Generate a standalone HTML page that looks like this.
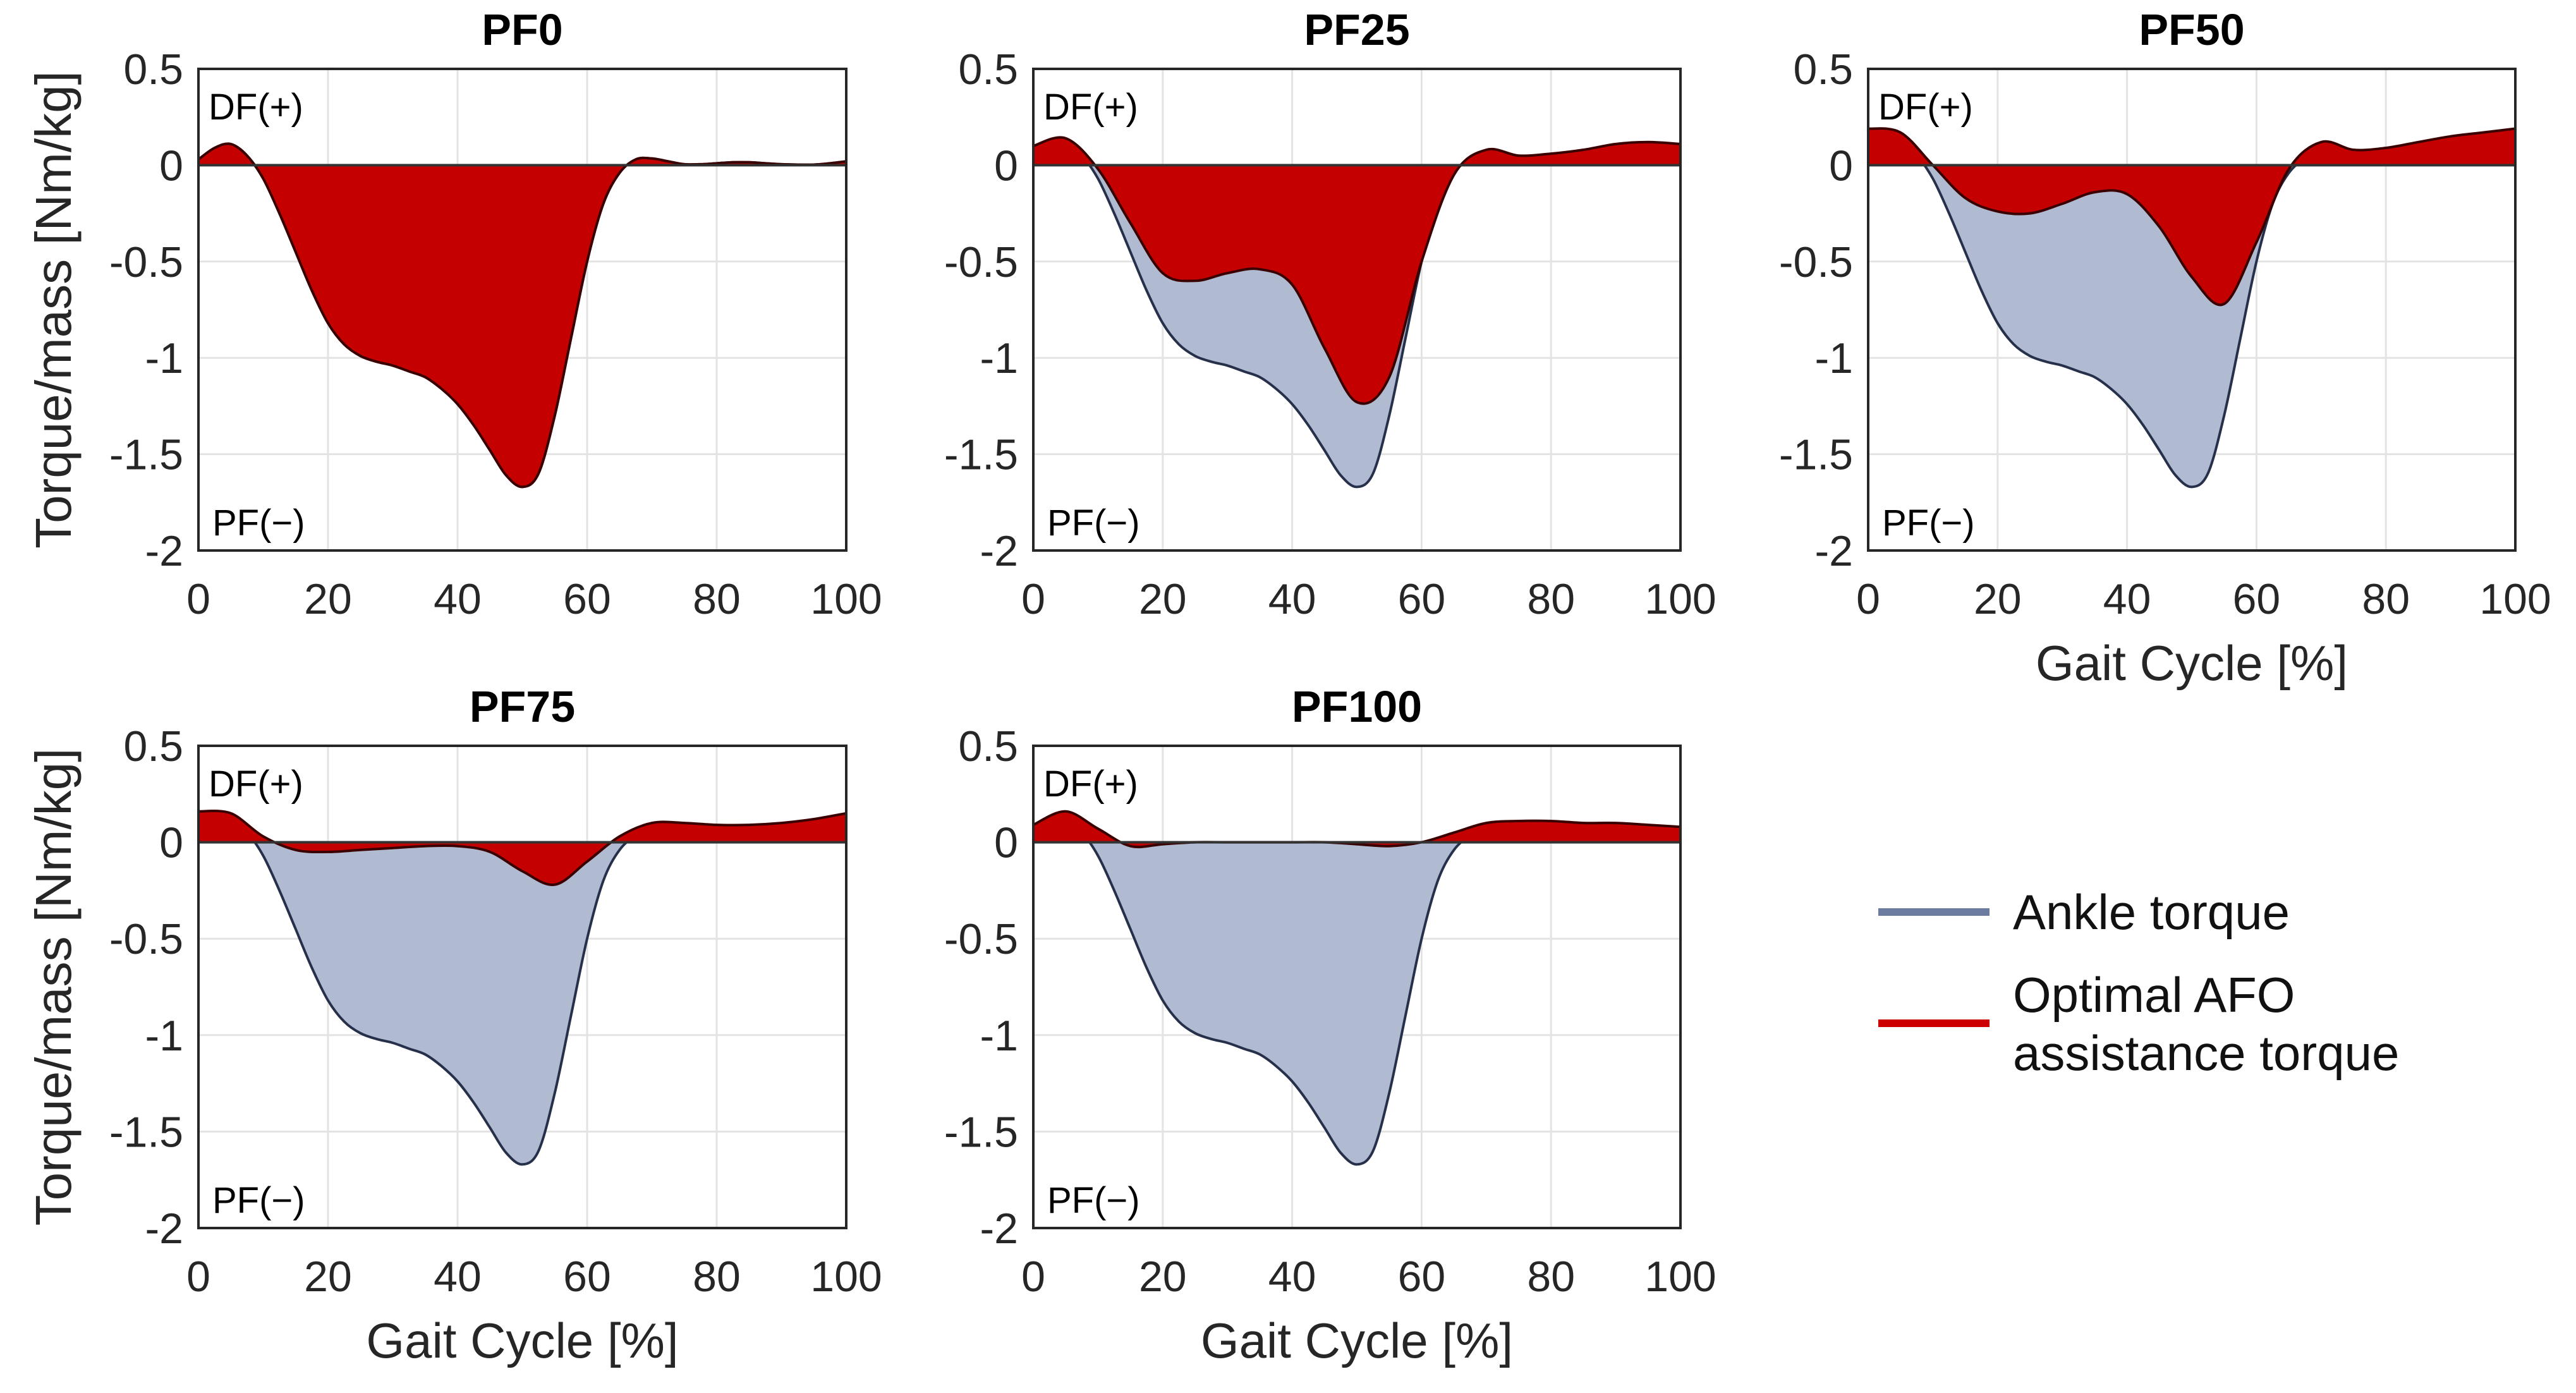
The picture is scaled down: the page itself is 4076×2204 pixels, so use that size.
<!DOCTYPE html>
<html><head><meta charset="utf-8"><style>
html,body{margin:0;padding:0;background:#fff;}
svg{display:block;font-family:"Liberation Sans",Arial,sans-serif;}
</style></head><body>
<svg id="fig" width="4076" height="2204" viewBox="0 0 4076 2204" xmlns="http://www.w3.org/2000/svg"></svg>
<script>
const gaitAnkle=[0,2.5,5,7.5,10,12.5,15,17.5,20,22.5,25,27.5,30,32.5,35,37.5,40,42.5,45,47.5,50,52.5,55,57.5,60,62.5,65,67.5,70,72.5,75,77.5,80,82.5,85,87.5,90,92.5,95,97.5,100];
const ankleTorque=[0.03,0.09,0.11,0.05,-0.07,-0.25,-0.45,-0.65,-0.82,-0.93,-0.99,-1.02,-1.04,-1.07,-1.1,-1.16,-1.24,-1.35,-1.48,-1.61,-1.67,-1.6,-1.3,-0.9,-0.5,-0.2,-0.04,0.03,0.035,0.02,0.005,0.005,0.01,0.015,0.015,0.01,0.005,0.003,0.003,0.01,0.02];
const gaitAssist=[0,5,10,15,20,25,30,35,40,45,50,55,60,65,70,75,80,85,90,95,100];
const assistPF25=[0.1,0.14,-0.02,-0.3,-0.56,-0.6,-0.56,-0.54,-0.62,-0.95,-1.23,-1.1,-0.5,-0.05,0.08,0.05,0.06,0.08,0.11,0.12,0.11];
const assistPF50=[0.19,0.17,0.0,-0.17,-0.24,-0.25,-0.2,-0.14,-0.15,-0.32,-0.58,-0.72,-0.4,-0.02,0.12,0.08,0.09,0.12,0.15,0.17,0.19];
const assistPF75=[0.16,0.15,0.03,-0.04,-0.05,-0.04,-0.03,-0.02,-0.02,-0.05,-0.15,-0.22,-0.1,0.03,0.1,0.1,0.09,0.09,0.1,0.12,0.15];
const assistPF100=[0.09,0.16,0.07,-0.02,-0.01,0,0,0,0,0,-0.01,-0.02,0,0.05,0.1,0.11,0.11,0.1,0.1,0.09,0.08];
const yTicks=[0.5,0,-0.5,-1,-1.5,-2];
const yTickLabels=["0.5","0","-0.5","-1","-1.5","-2"];
const xTicks=[0,20,40,60,80,100];

const NS="http://www.w3.org/2000/svg";
const svg=document.getElementById('fig');
function mk(tag,attrs,parent){const e=document.createElementNS(NS,tag);for(const k in attrs)e.setAttribute(k,attrs[k]);(parent||svg).appendChild(e);return e;}
function txt(s,attrs,parent){const e=mk('text',attrs,parent);e.textContent=s;return e;}
function smooth(pts){let d='';for(let i=0;i<pts.length;i++){if(i===0){d+='M'+pts[0][0]+','+pts[0][1];continue;}
 const p0=pts[Math.max(0,i-2)],p1=pts[i-1],p2=pts[i],p3=pts[Math.min(pts.length-1,i+1)];
 const c1=[p1[0]+(p2[0]-p0[0])/6,p1[1]+(p2[1]-p0[1])/6],c2=[p2[0]-(p3[0]-p1[0])/6,p2[1]-(p3[1]-p1[1])/6];
 d+=' C'+c1[0].toFixed(1)+','+c1[1].toFixed(1)+' '+c2[0].toFixed(1)+','+c2[1].toFixed(1)+' '+p2[0].toFixed(1)+','+p2[1].toFixed(1);}return d;}

const panels=[
 {name:'PF0',L:314,R:1339,T:109,B:871,assist:null,xlabel:false},
 {name:'PF25',L:1635,R:2659,T:109,B:871,assist:assistPF25,xlabel:false},
 {name:'PF50',L:2956,R:3980,T:109,B:871,assist:assistPF50,xlabel:true},
 {name:'PF75',L:314,R:1339,T:1180,B:1943,assist:assistPF75,xlabel:true},
 {name:'PF100',L:1635,R:2659,T:1180,B:1943,assist:assistPF100,xlabel:true}
];
panels.forEach((p,pi)=>{
 const g=mk('g',{});
 
 
 const xs=v=>p.L+(v/100)*(p.R-p.L);
 const ys=v=>p.T+(0.5-v)/2.5*(p.B-p.T);
 xTicks.forEach(t=>{const l=mk('line',{x1:xs(t),x2:xs(t),y1:p.T,y2:p.B,stroke:'#e3e3e3','stroke-width':3},g);});
 yTicks.forEach(t=>{const l=mk('line',{x1:p.L,x2:p.R,y1:ys(t),y2:ys(t),stroke:'#e3e3e3','stroke-width':3},g);});
 const y0=ys(0);
 const aPts=gaitAnkle.map((x,i)=>[xs(x),ys(ankleTorque[i])]);
 const aLine=smooth(aPts);
 const af=mk('path',{d:aLine+' L'+xs(100)+','+y0+' L'+xs(0)+','+y0+' Z',fill:'#b0bad0',stroke:'none'},g);
 
 const al=mk('path',{d:aLine,fill:'none',stroke:'#26304a','stroke-width':4},g);
 
 let rLine;
 if(p.assist){rLine=smooth(gaitAssist.map((x,i)=>[xs(x),ys(p.assist[i])]));}else{rLine=aLine;}
 const rf=mk('path',{d:rLine+' L'+xs(100)+','+y0+' L'+xs(0)+','+y0+' Z',fill:'#c40000',stroke:'none'},g);
 
 const rl=mk('path',{d:rLine,fill:'none',stroke:'#3a0000','stroke-width':4},g);
 
 const zl=mk('line',{x1:p.L,x2:p.R,y1:y0,y2:y0,stroke:'#333','stroke-width':4},g);
 
 const fr=mk('rect',{x:p.L,y:p.T,width:p.R-p.L,height:p.B-p.T,fill:'none',stroke:'#262626','stroke-width':4},g);
 
 yTicks.forEach((t,i)=>{const e=txt(yTickLabels[i],{x:p.L-24,y:ys(t)+24,'text-anchor':'end','font-size':68,fill:'#262626'},g);});
 xTicks.forEach(t=>{const e=txt(String(t),{x:xs(t),y:p.B+100,'text-anchor':'middle','font-size':68,fill:'#262626'},g);});
 const ti=txt(p.name,{x:(p.L+p.R)/2,y:p.T-38,'text-anchor':'middle','font-size':70,'font-weight':'bold',fill:'#000'},g);
 
 const df=txt('DF(+)',{x:p.L+16,y:p.T+80,'font-size':58,fill:'#000'},g);
 
 const pf=txt('PF(\u2212)',{x:p.L+22,y:p.B-24,'font-size':58,fill:'#000'},g);
 
 if(p.L<400){const yl=txt('Torque/mass [Nm/kg]',{x:0,y:0,'text-anchor':'middle','font-size':80,fill:'#262626',transform:'translate(112,'+((p.T+p.B)/2)+') rotate(-90)'},g);}
 if(p.xlabel){const xl=txt('Gait Cycle [%]',{x:(p.L+p.R)/2,y:p.B+205,'text-anchor':'middle','font-size':78,fill:'#262626'},g);}
});
const lg=mk('g',{});


const l1=mk('line',{x1:2972,x2:3148,y1:1443,y2:1443,stroke:'#6c7ba0','stroke-width':12},lg);

const t1=txt('Ankle torque',{x:3185,y:1470,'font-size':78,fill:'#111'},lg);

const l2=mk('line',{x1:2972,x2:3148,y1:1619,y2:1619,stroke:'#cc0000','stroke-width':12},lg);

const t2=txt('Optimal AFO',{x:3185,y:1601,'font-size':78,fill:'#111'},lg);

const t3=txt('assistance torque',{x:3185,y:1693,'font-size':78,fill:'#111'},lg);

</script>
</body></html>
